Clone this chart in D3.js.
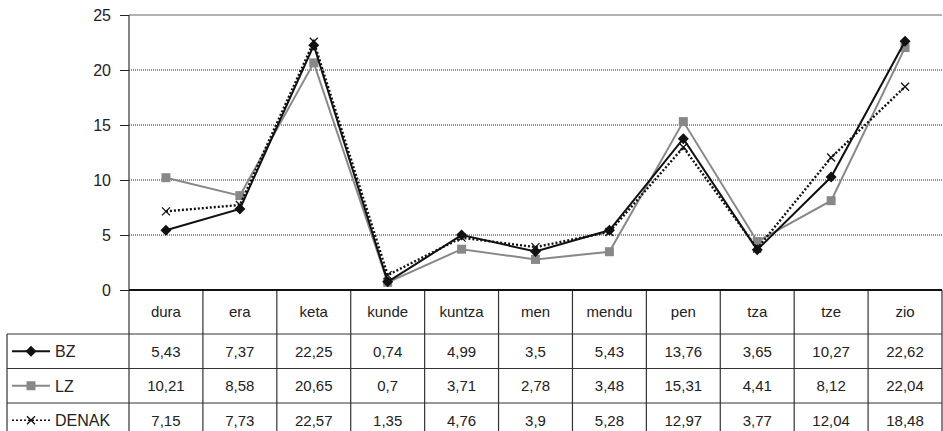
<!DOCTYPE html>
<html>
<head>
<meta charset="utf-8">
<script src="https://cdn.jsdelivr.net/npm/d3@7"></script>
<style>
  body { margin: 0; background: #fff; }
  svg text { font-family: "Liberation Sans", Arial, sans-serif; fill: #222; }
</style>
</head>
<body>
<div id="chart"></div>
<script>
// data
const categories = ['dura', 'era', 'keta', 'kunde', 'kuntza', 'men', 'mendu', 'pen', 'tza', 'tze', 'zio']
const bzValues = [5.43, 7.37, 22.25, 0.74, 4.99, 3.5, 5.43, 13.76, 3.65, 10.27, 22.62]
const lzValues = [10.21, 8.58, 20.65, 0.7, 3.71, 2.78, 3.48, 15.31, 4.41, 8.12, 22.04]
const denakValues = [7.15, 7.73, 22.57, 1.35, 4.76, 3.9, 5.28, 12.97, 3.77, 12.04, 18.48]
const yTicks = [0, 5, 10, 15, 20, 25]

const series = [
  { name: 'BZ', values: bzValues, color: '#111', dash: null, marker: 'diamond' },
  { name: 'LZ', values: lzValues, color: '#888', dash: null, marker: 'square' },
  { name: 'DENAK', values: denakValues, color: '#111', dash: '2,2', marker: 'cross' }
]

const width = 943, height = 431
const plotLeft = 129, plotRight = 942, plotTop = 15, plotBottom = 290
const headerH = 44, rowH = 34.5, legendLeft = 7

// format 5.43 => 5,43
function fmt(v) {
  return String(v).replace('.', ',')
}

const svg = d3.select('#chart').append('svg')
  .attr('width', width)
  .attr('height', height)

const x = d3.scaleBand()
  .domain(categories)
  .range([plotLeft, plotRight])

const y = d3.scaleLinear()
  .domain([0, 25])
  .range([plotBottom, plotTop])

// gridlines
svg.selectAll('.grid')
  .data(yTicks.filter(d => d > 0 && d < 25))
  .enter().append('line')
  .attr('x1', plotLeft).attr('x2', plotRight)
  .attr('y1', d => y(d)).attr('y2', d => y(d))
  .attr('stroke', '#222')
  .attr('stroke-width', 1)
  .attr('stroke-dasharray', '1,1')

svg.append('line')
  .attr('x1', plotLeft).attr('x2', plotRight)
  .attr('y1', y(25)).attr('y2', y(25))
  .attr('stroke', '#999').attr('stroke-width', 1.5)

// y axis
const yAxis = svg.append('g')
  .attr('transform', 'translate(' + plotLeft + ',0)')
  .call(d3.axisLeft(y).tickValues(yTicks).tickSize(9).tickPadding(9))
yAxis.select('.domain').remove()
yAxis.selectAll('line').attr('stroke', '#222')
yAxis.selectAll('text').style('font-size', '16px').style('fill', '#222')

// table
const g = svg.append('g').attr('stroke', '#333').attr('stroke-width', 1.2)

// vertical lines
g.append('line').attr('x1', plotLeft).attr('x2', plotLeft).attr('y1', plotTop).attr('y2', height)
categories.forEach(function (c) {
  const xe = x(c) + x.bandwidth()
  g.append('line').attr('x1', xe).attr('x2', xe).attr('y1', plotBottom).attr('y2', height)
})
g.append('line').attr('x1', legendLeft).attr('x2', legendLeft)
  .attr('y1', plotBottom + headerH).attr('y2', height)

// horizontal lines
g.append('line').attr('x1', plotLeft).attr('x2', plotRight).attr('y1', plotBottom).attr('y2', plotBottom)
  .attr('stroke', '#111').attr('stroke-width', 1.8)
for (let i = 0; i < 3; i++) {
  const yy = plotBottom + headerH + rowH * i
  g.append('line').attr('x1', legendLeft).attr('x2', plotRight).attr('y1', yy).attr('y2', yy)
}

// category labels
svg.selectAll('.cat')
  .data(categories)
  .enter().append('text')
  .attr('x', d => x(d) + x.bandwidth() / 2)
  .attr('y', plotBottom + headerH / 2 + 5)
  .attr('text-anchor', 'middle')
  .style('font-size', '15px')
  .text(d => d)

function drawMarker(sel, type, color) {
  if (type === 'diamond') {
    sel.append('path').attr('d', 'M0,-5.5L5.5,0L0,5.5L-5.5,0Z').attr('fill', color)
  } else if (type === 'square') {
    sel.append('rect').attr('x', -4.5).attr('y', -4.5).attr('width', 9).attr('height', 9).attr('fill', color)
  } else {
    sel.append('path').attr('d', 'M-4,-4L4,4M-4,4L4,-4').attr('stroke', color).attr('stroke-width', 1.3).attr('fill', 'none')
  }
}

const line = d3.line()
  .x((d, i) => x(categories[i]) + x.bandwidth() / 2)
  .y(d => y(d))

// draw LZ first so black lines sit on top
const drawOrder = [series[1], series[2], series[0]]
drawOrder.forEach(function (s) {
  svg.append('path')
    .datum(s.values)
    .attr('d', line)
    .attr('fill', 'none')
    .attr('stroke', s.color)
    .attr('stroke-width', s.dash ? 2.4 : 2)
    .attr('stroke-dasharray', s.dash)

  s.values.forEach(function (v, i) {
    const m = svg.append('g')
      .attr('transform', 'translate(' + (x(categories[i]) + x.bandwidth() / 2) + ',' + y(v) + ')')
    drawMarker(m, s.marker, s.color)
  })
})

// table rows
series.forEach(function (s, r) {
  const cy = plotBottom + headerH + rowH * r + rowH / 2
  // legend key
  svg.append('line')
    .attr('x1', 12).attr('x2', 50).attr('y1', cy).attr('y2', cy)
    .attr('stroke', s.color).attr('stroke-width', s.dash ? 1.6 : 2)
    .attr('stroke-dasharray', s.dash)
  const m = svg.append('g').attr('transform', 'translate(31,' + cy + ')')
  drawMarker(m, s.marker, s.color)
  svg.append('text')
    .attr('x', 55).attr('y', cy + 6)
    .style('font-size', '16px')
    .text(s.name)

  svg.selectAll('.v' + r)
    .data(s.values)
    .enter().append('text')
    .attr('x', (d, i) => x(categories[i]) + x.bandwidth() / 2)
    .attr('y', cy + 5.5)
    .attr('text-anchor', 'middle')
    .style('font-size', '15px')
    .text(d => fmt(d))
})
</script>
</body>
</html>
